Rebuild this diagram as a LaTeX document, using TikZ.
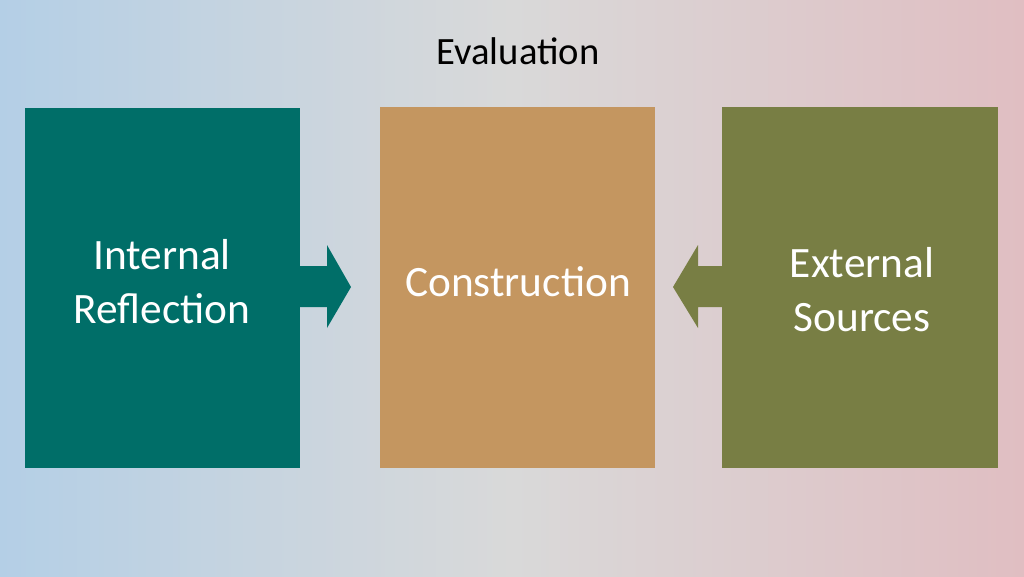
\documentclass[tikz,border=0pt]{standalone}
\usepackage{fontspec}
\setmainfont{Carlito}
\definecolor{bgL}{RGB}{180,207,230}
\definecolor{bgM}{RGB}{217,217,217}
\definecolor{bgR}{RGB}{224,190,194}
\definecolor{teal}{RGB}{0,110,104}
\definecolor{tan}{RGB}{196,150,96}
\definecolor{olive}{RGB}{120,126,68}
\begin{document}
\begin{tikzpicture}[x=0.03cm,y=-0.03cm,
  box/.style={inner sep=0pt,text=white,align=center,font=\fontsize{37}{46}\selectfont}]
\shade[left color=bgL,right color=bgR,middle color=bgM] (0,0) rectangle (1024,576);
\useasboundingbox (0,0) rectangle (1024,576);
\node[font=\fontsize{33}{40}\selectfont] (title) at (518,51) {Evaluation};
\fill[teal] (25,108) rectangle (300,468);
\node[box] (ir) at (162,282) {Internal\\Reflection};
\fill[tan] (380,107) rectangle (655,468);
\node[box] (c) at (518,282) {Construction};
\fill[olive] (722,107) rectangle (998,468);
\node[box] (es) at (862,290) {External\\Sources};
\fill[teal] (300,266) -- (327,266) -- (327,245) -- (351,287) -- (327,328) -- (327,307) -- (300,307) -- cycle;
\fill[olive] (722,266) -- (698,266) -- (698,245) -- (673,287) -- (698,328) -- (698,307) -- (722,307) -- cycle;
\end{tikzpicture}
\end{document}
